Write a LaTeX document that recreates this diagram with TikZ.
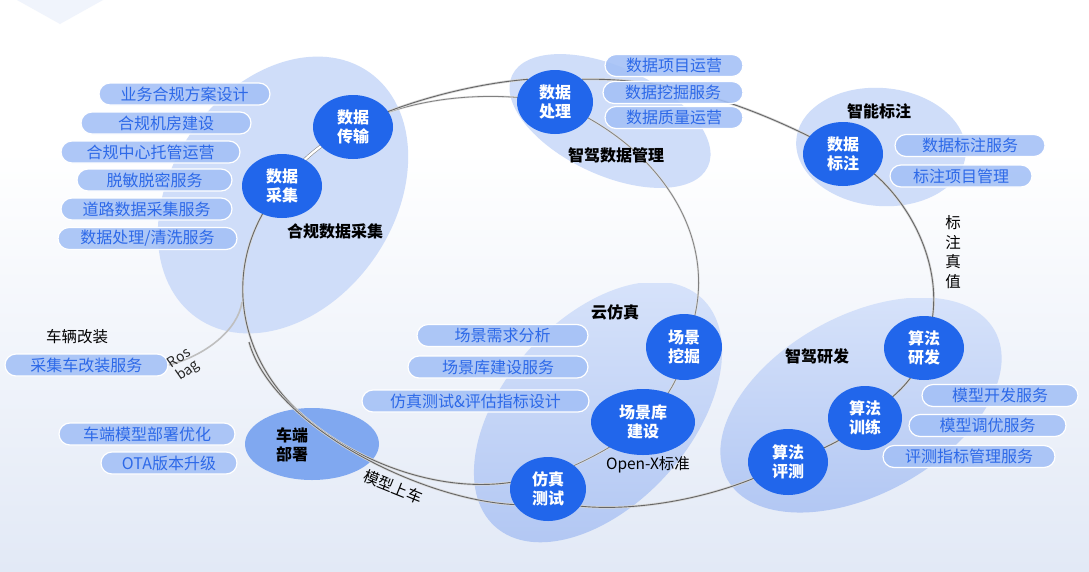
\documentclass[tikz,border=0pt]{standalone}
\usepackage{fontspec}
\setmainfont{Noto Sans CJK SC}
\usetikzlibrary{shapes.geometric}
\definecolor{circc}{RGB}{33,102,235}
\definecolor{pillc}{RGB}{163,192,246}
\definecolor{pilltext}{RGB}{45,105,232}
\definecolor{blobc}{RGB}{207,221,249}
\definecolor{blobt}{RGB}{214,226,250}
\definecolor{blobb}{RGB}{178,199,243}
\definecolor{cdbsc}{RGB}{128,168,240}
\definecolor{bgb}{RGB}{226,233,246}
\definecolor{bgtri}{RGB}{240,244,252}
\pgfdeclarelayer{bglayer}
\pgfdeclarelayer{blobs}
\pgfdeclarelayer{lines}
\pgfsetlayers{bglayer,blobs,lines,main}
\begin{document}
\begin{tikzpicture}[x=1pt,y=-1pt,
  circ/.style={ellipse, fill=circc, text=white, inner sep=0pt, align=center, font=\bfseries\fontsize{16}{19}\selectfont},
  pill/.style={rounded corners=11pt, draw=white, line width=1.2pt, fill=pillc, fill opacity=0.88, text opacity=1, text=pilltext, minimum height=22pt, inner sep=0pt, font=\fontsize{16}{19}\selectfont},
  lab/.style={font=\bfseries\fontsize{16}{19}\selectfont, inner sep=0pt, align=center},
  note/.style={font=\fontsize{15.5}{19.5}\selectfont, inner sep=0pt, align=center},
  ring/.style={draw=black!60, line width=0.9pt, preaction={draw=black!16, line width=2.4pt}},
  ringb/.style={draw=black!50, line width=0.8pt, preaction={draw=black!12, line width=2pt}},
  dbl/.style={draw=black!45, line width=0.6pt, double=white, double distance=2.2pt},
  rosl/.style={draw=black!25, line width=1.6pt},
  blob/.style={fill=blobc}]
\useasboundingbox (0,0) rectangle (1089,571);
\begin{pgfonlayer}{bglayer}
  \fill[white] (0,0) rectangle (1089,571);
  \shade[top color=white, bottom color=bgb] (0,150) rectangle (1089,571);
  \fill[bgtri] (17,0) -- (60,24) -- (103,0) -- cycle;
\end{pgfonlayer}
\begin{pgfonlayer}{blobs}
  \fill[blob, rotate around={55:(283,195)}] (283,195) ellipse [x radius=150, y radius=111];
  \fill[blob, rotate around={-25:(610,121)}] (610,121) ellipse [x radius=108, y radius=54];
  \fill[blob, rotate around={-5:(881,147)}] (881,147) ellipse [x radius=85, y radius=59];
  \begin{scope}
    \clip[rotate around={48:(598,412)}] (598,412) ellipse [x radius=154, y radius=93];
    \shade[top color=blobt, bottom color=blobb] (440,283) rectangle (760,545);
  \end{scope}
  \begin{scope}
    \clip[rotate around={29:(861,405)}] (861,405) ellipse [x radius=153, y radius=89];
    \shade[top color=blobt, bottom color=blobb] (715,298) rectangle (1005,515);
  \end{scope}
  \node[ellipse, fill=cdbsc, minimum width=134pt, minimum height=72pt, inner sep=0pt] (cdbs) at (312,444) {};
\end{pgfonlayer}

% circles
\node[circ, minimum width=80pt, minimum height=64pt] (dcj) at (282,186) {数据\\采集};
\node[circ, minimum width=80pt, minimum height=64pt] (dcs) at (353,127) {数据\\传输};
\node[circ, minimum width=76pt, minimum height=64pt] (dcl) at (555,102) {数据\\处理};
\node[circ, minimum width=80pt, minimum height=64pt] (dbz) at (843,154) {数据\\标注};
\node[circ, minimum width=76pt, minimum height=66pt] (cwj) at (684,347) {场景\\挖掘};
\node[circ, minimum width=104pt, minimum height=66pt] (cjs) at (643,422) {场景库\\建设};
\node[circ, minimum width=76pt, minimum height=64pt] (fzcs) at (548,489) {仿真\\测试};
\node[circ, minimum width=80pt, minimum height=64pt] (sfyf) at (924,348) {算法\\研发};
\node[circ, minimum width=74pt, minimum height=64pt] (sfxl) at (865,418) {算法\\训练};
\node[circ, minimum width=80pt, minimum height=66pt] (sfpc) at (788,462) {算法\\评测};
\node[lab] (cdbst) at (292,445) {车端\\部署};

% labels
\node[lab] (l1) at (335,231) {合规数据采集};
\node[lab] (l2) at (616,155) {智驾数据管理};
\node[lab] (l3) at (879,111) {智能标注};
\node[lab] (l4) at (615,312) {云仿真};
\node[lab] (l5) at (817,356) {智驾研发};
\node[note] (l6) at (953,252) {标\\注\\真\\值};
\node[note] (l7) at (648,465) {Open-X标准};
\node[note, rotate=-22] (l8) at (393,487) {模型上车};
\node[note] (l9) at (77,337) {车辆改装};

% pills
\node[pill, minimum width=171pt] (p1) at (184.5,94) {业务合规方案设计};
\node[pill, minimum width=170pt] (p2) at (166,123) {合规机房建设};
\node[pill, minimum width=179pt] (p3) at (150.5,152) {合规中心托管运营};
\node[pill, minimum width=155pt] (p4) at (154.5,180) {脱敏脱密服务};
\node[pill, minimum width=171pt] (p5) at (146.5,209) {道路数据采集服务};
\node[pill, minimum width=179pt] (p6) at (147.5,238.5) {数据处理/清洗服务};
\node[pill, minimum width=138pt] (p7) at (674,65.5) {数据项目运营};
\node[pill, minimum width=140pt] (p8) at (673,92.5) {数据挖掘服务};
\node[pill, minimum width=138pt] (p9) at (674,117.5) {数据质量运营};
\node[pill, minimum width=150pt] (p10) at (970,145.5) {数据标注服务};
\node[pill, minimum width=142pt] (p11) at (961,176) {标注项目管理};
\node[pill, minimum width=171pt] (p12) at (502.5,335.5) {场景需求分析};
\node[pill, minimum width=180pt] (p13) at (498,367) {场景库建设服务};
\node[pill, minimum width=227pt] (p14) at (475.5,401) {仿真测试\&评估指标设计};
\node[pill, minimum width=156pt] (p15) at (1000,395.5) {模型开发服务};
\node[pill, minimum width=157pt] (p16) at (987.5,425.5) {模型调优服务};
\node[pill, minimum width=172pt] (p17) at (969,456.5) {评测指标管理服务};
\node[pill, minimum width=176pt] (p18) at (147,434) {车端模型部署优化};
\node[pill, minimum width=136pt] (p19) at (169,463) {OTA版本升级};
\node[pill, minimum width=163pt] (p20) at (86.5,365) {采集车改装服务};

\node[note, rotate=35, font=\fontsize{14}{15}\selectfont, text=black!85] (l10) at (184,365) {Ros\\bag};

\coordinate (ringjoin) at (249,342);
\coordinate (rosj) at (242,302);

\begin{pgfonlayer}{lines}
  % inner ring
  \draw[dbl] (dcj.center) .. controls (299.3,160.7) and (324.1,141.1) .. (dcs.center);
  \draw[ringb] (dcs.center) .. controls (413.9,96) and (488.4,90.4) .. (dcl.center);
  \draw[ringb] (dcl.center) .. controls (668,148) and (728.3,251.5) .. (cwj.center);
  \draw[ringb] (cwj.center) .. controls (683,375.3) and (666.3,400.2) .. (cjs.center);
  \draw[ringb] (cjs.center) .. controls (622,442) and (595,456) .. (fzcs.42);
  \draw[ring] (fzcs.170) .. controls (426.7,494.4) and (338,452) .. (292,405)
        .. controls (232,344) and (224.6,253.4) .. (dcj.center);
  % outer ring
  \draw[ring] (dcs.center) .. controls (400,103) and (470,84) .. (dcl.140);
  \draw[ring] (dcl.40) .. controls (650,78) and (730,92) .. (dbz.center);
  \draw[ring] (dbz.center) .. controls (900,178) and (957,270) .. (sfyf.center);
  \draw[ring] (sfyf.center) .. controls (918,380) and (890,400) .. (sfxl.center);
  \draw[ring] (sfxl.center) .. controls (850,440) and (815,452) .. (sfpc.center);
  \draw[ring] (sfpc.center) .. controls (725,497) and (640,512) .. (fzcs.-28);
  \draw[ring] (fzcs.205) .. controls (420,500) and (272,425) .. (ringjoin);
  % ros bag
  \draw[rosl] (rosj) .. controls (238,330) and (205,356) .. (p20.east);
\end{pgfonlayer}
\end{tikzpicture}
\end{document}
